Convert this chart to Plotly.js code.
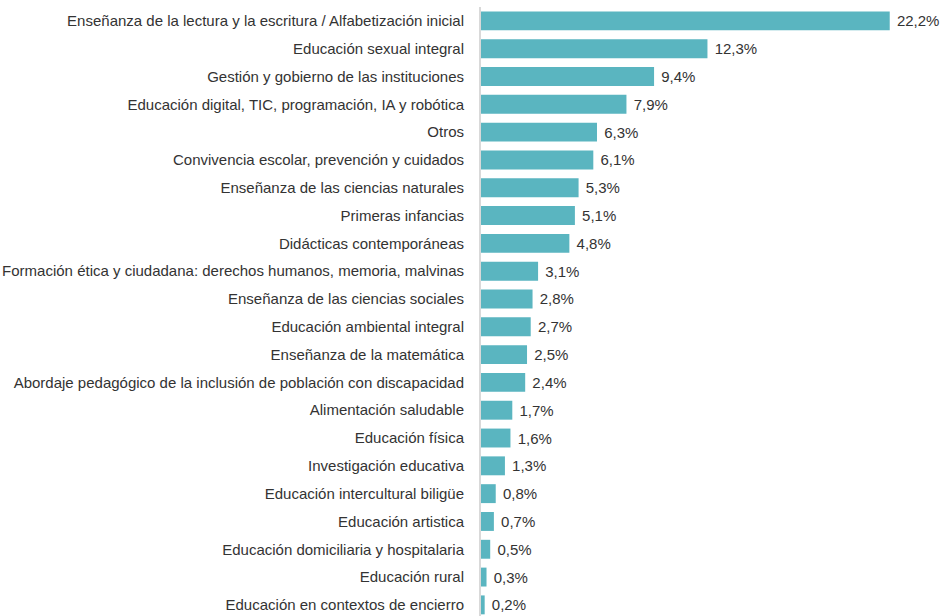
<!DOCTYPE html>
<html><head><meta charset="utf-8">
<script src="https://cdn.plot.ly/plotly-3.0.1.min.js"></script>
<style>html,body{margin:0;padding:0;background:#fff;}#chart{width:940px;height:616px;}</style>
</head><body><div id="chart"></div>
<script>
const categories = [
  "Enseñanza de la lectura y la escritura / Alfabetización inicial",
  "Educación sexual integral",
  "Gestión y gobierno de las instituciones",
  "Educación digital, TIC, programación, IA y robótica",
  "Otros",
  "Convivencia escolar, prevención y cuidados",
  "Enseñanza de las ciencias naturales",
  "Primeras infancias",
  "Didácticas contemporáneas",
  "Formación ética y ciudadana: derechos humanos, memoria, malvinas",
  "Enseñanza de las ciencias sociales",
  "Educación ambiental integral",
  "Enseñanza de la matemática",
  "Abordaje pedagógico de la inclusión de población con discapacidad",
  "Alimentación saludable",
  "Educación física",
  "Investigación educativa",
  "Educación intercultural biligüe",
  "Educación artistica",
  "Educación domiciliaria y hospitalaria",
  "Educación rural",
  "Educación en contextos de encierro"
];
const values = [22.2, 12.3, 9.4, 7.9, 6.3, 6.1, 5.3, 5.1, 4.8, 3.1, 2.8, 2.7, 2.5, 2.4, 1.7, 1.6, 1.3, 0.8, 0.7, 0.5, 0.3, 0.2];
const labels = values.map(v => v.toFixed(1).replace('.', ',') + '%');

const font = "'Liberation Sans Narrow', 'Arial Narrow', sans-serif";
Plotly.newPlot('chart', [{
  type: 'bar',
  orientation: 'h',
  y: categories,
  x: values,
  text: labels,
  texttemplate: '\u00a0%{text}',
  textposition: 'outside',
  cliponaxis: false,
  textfont: {family: font, size: 15, color: '#333333'},
  marker: {color: '#5AB5C0', line: {width: 0}},
  hoverinfo: 'skip'
}], {
  width: 940, height: 616,
  margin: {l: 481, r: 7, t: 7, b: 0, autoexpand: false},
  paper_bgcolor: '#fff', plot_bgcolor: '#fff',
  bargap: 0.32,
  showlegend: false,
  xaxis: {range: [0, 24.55], visible: false, fixedrange: true},
  yaxis: {
    type: 'category',
    range: [21.4, -0.5],
    automargin: false,
    showline: true, linecolor: '#d9d9d9', linewidth: 2,
    ticks: '', showgrid: false, zeroline: false,
    ticklabelstandoff: 12,
    tickfont: {family: font, size: 15, color: '#333333'}
  }
}, {displayModeBar: false, staticPlot: true});
</script>
</body></html>
